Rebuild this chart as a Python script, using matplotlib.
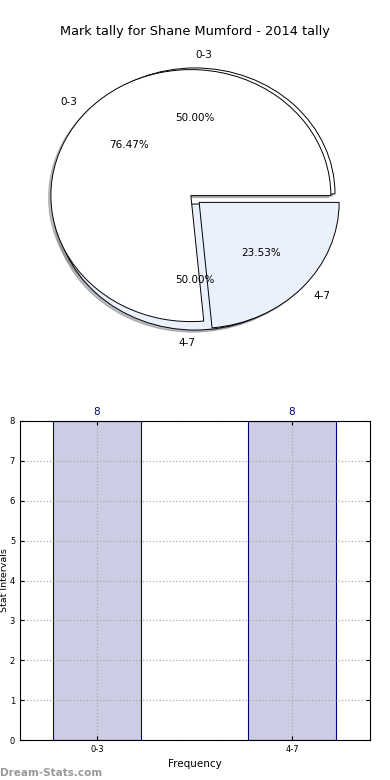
import matplotlib
matplotlib.use('Agg')
import matplotlib.pyplot as plt

# Werte aus dem Bild
pie_labels = ['0-3', '4-7']
pie_back_values = [8, 8]      # 50.00% / 50.00%
pie_front_values = [13, 4]    # 76.47% / 23.53%
pie_colors = ['white', '#eaf0fc']

bar_labels = ['0-3', '4-7']
bar_values = [8, 8]

title = 'Mark tally for Shane Mumford - 2014 tally'

fig = plt.figure(figsize=(3.9, 7.8), dpi=100)

# --- Kuchendiagramm (zwei übereinander gezeichnete Kuchen) ---
ax1 = fig.add_axes([20 / 390, (780 - 356.5) / 780, 350 / 390, 315 / 780])
wedge_style = {'edgecolor': 'black', 'linewidth': 0.7}
shadow_style = {'ox': -0.012, 'oy': -0.012, 'shade': 0.5}
for i, vals in enumerate((pie_back_values, pie_front_values)):
    wedges, texts, autotexts = ax1.pie(
        vals, labels=pie_labels, colors=pie_colors, explode=[0.04, 0.04],
        autopct='%.2f%%', shadow=shadow_style, startangle=0,
        wedgeprops=wedge_style, textprops={'fontsize': 7.5})
    if i == 0:
        # alte matplotlib-Ausrichtung der Beschriftungen oben/unten
        texts[0].set_ha('left')
        texts[1].set_ha('right')
ax1.set_aspect('auto')
ax1.set_xlim(-1.25, 1.25)
ax1.set_ylim(-1.25, 1.25)
ax1.set_title(title, fontsize=9.25, pad=5)

# --- Balkendiagramm ---
ax2 = fig.add_axes([20 / 390, 40 / 780, 350 / 390, 319 / 780])
xpos = list(range(len(bar_labels)))
bars = ax2.bar(xpos, bar_values, width=0.45, color=(0, 0, 0.5, 0.2),
               edgecolor='navy', linewidth=0.8, zorder=2)
for b, v in zip(bars, bar_values):
    ax2.annotate(str(v), (b.get_x() + b.get_width() / 2, v),
                 xytext=(0, 3), textcoords='offset points',
                 ha='center', va='bottom', color='navy', fontsize=7.5)
ax2.set_xlim(-0.395, 1.4)
ax2.set_ylim(0, 8)
ax2.set_xticks(xpos)
ax2.set_xticklabels(bar_labels)
ax2.set_yticks(range(0, 9))
ax2.tick_params(direction='in', labelsize=6, top=True, right=True, length=3)
ax2.grid(True, linestyle=':', color='#aaaaaa', linewidth=0.9, zorder=3)
ax2.set_axisbelow(False)
for sp in ax2.spines.values():
    sp.set_zorder(4)
ax2.set_xlabel('Frequency', fontsize=7.5, labelpad=4)
ax2.set_ylabel('Stat Intervals', fontsize=6.8)
ax2.yaxis.set_label_coords(-0.031, 0.5)

fig.text(0.0, 2 / 780, 'Dream-Stats.com', color='#999999', fontsize=7.5,
         fontweight='bold', ha='left', va='bottom')

fig.savefig('out.png', dpi=100)
plt.close(fig)
